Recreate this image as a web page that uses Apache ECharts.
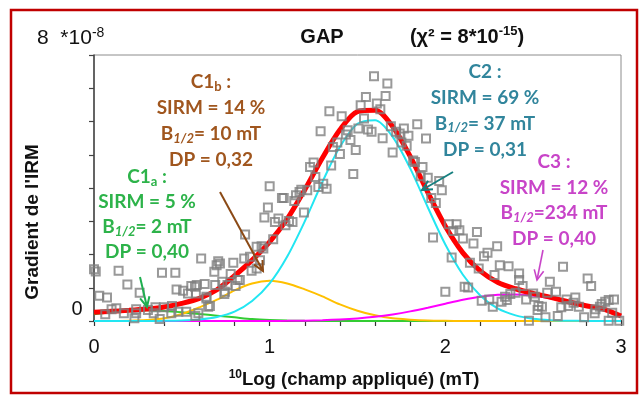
<!DOCTYPE html>
<html><head><meta charset="utf-8">
<script src="https://cdn.jsdelivr.net/npm/echarts@6/dist/echarts.min.js"></script>
<style>html,body{margin:0;padding:0;background:#fff}#c{width:642px;height:398px}</style>
</head><body><div id="c"></div>
<script>
// ---- data ----
const xSamples = [0,0.1,0.2,0.3,0.4,0.5,0.6,0.7,0.8,0.9,1.0,1.1,1.2,1.3,1.4,1.5,1.6,1.7,1.8,1.9,2.0,2.1,2.2,2.3,2.4,2.5,2.6,2.7,2.8,2.9,3.0];
const totalFit = [0.26,0.29,0.32,0.36,0.42,0.53,0.68,0.94,1.36,1.83,2.38,3.07,3.95,4.90,5.75,6.30,6.34,5.85,4.95,3.87,2.85,2.05,1.50,1.16,0.97,0.83,0.71,0.58,0.46,0.36,0.15];
const compC1a = [0.20,0.26,0.30,0.32,0.30,0.26,0.21,0.16,0.11,0.06,0.03,0.012,0.004,0.001,0,0,0,0,0,0,0,0,0,0,0,0,0,0,0,0,0];
const compC1b = [0,0.003,0.01,0.03,0.08,0.21,0.41,0.64,0.92,1.13,1.21,1.13,0.95,0.74,0.50,0.31,0.17,0.08,0.04,0.015,0.005,0,0,0,0,0,0,0,0,0,0];
const compC2 = [0,0,0,0.001,0.005,0.016,0.046,0.12,0.28,0.60,1.13,1.94,3.00,4.18,5.24,5.93,6.04,5.54,4.59,3.42,2.30,1.39,0.76,0.37,0.17,0.066,0.024,0.008,0.002,0,0];
const compC3 = [0,0,0,0,0,0,0,0,0,0.001,0.002,0.005,0.011,0.022,0.042,0.075,0.125,0.197,0.290,0.401,0.521,0.637,0.731,0.788,0.798,0.759,0.678,0.569,0.449,0.33,0.15];
const measuredX = [0.00,0.01,0.14,0.19,0.03,0.074,0.26,0.387,0.463,0.47,0.507,0.535,0.554,0.585,0.63,0.64,0.58,0.69,0.064,0.10,0.127,0.17,0.23,0.24,0.24,0.307,0.34,0.374,0.398,0.35,0.444,0.44,0.48,0.525,0.577,0.61,0.707,0.717,0.698,0.793,0.685,0.778,0.83,0.818,0.73,0.76,0.806,0.745,0.742,0.65,0.66,0.64,0.594,0.575,0.855,0.888,0.945,0.897,0.926,0.926,0.954,0.964,0.86,1.02,0.97,0.99,1.00,1.03,1.05,1.09,1.11,1.13,1.07,1.08,1.14,1.15,1.17,1.18,1.195,1.214,1.277,1.305,1.324,1.26,1.25,1.23,1.35,1.476,1.29,1.34,1.41,1.385,1.36,1.40,1.444,1.434,1.46,1.49,1.505,1.537,1.518,1.548,1.594,1.67,1.66,1.61,1.63,1.56,1.58,1.643,1.69,1.72,1.74,1.764,1.79,1.70,1.75,1.78,1.84,1.89,1.817,1.827,1.87,1.86,1.90,1.965,1.98,1.92,1.946,2.02,2.064,2.045,2.08,2.10,2.18,2.16,1.93,2.295,2.036,2.24,2.22,2.14,2.19,2.31,2.36,2.28,2.00,2.11,2.13,2.207,2.25,2.32,2.35,2.27,2.42,2.42,2.44,2.67,2.81,2.83,2.595,2.34,2.37,2.40,2.46,2.50,2.51,2.58,2.63,2.53,2.55,2.525,2.57,2.476,2.64,2.69,2.70,2.66,2.74,2.73,2.76,2.79,2.85,2.855,2.88,2.89,2.91,2.93,2.96,2.93,2.99,2.95];
const measuredY = [1.56,1.49,1.51,1.10,0.76,0.71,0.85,1.45,1.45,0.95,0.91,0.83,1.05,1.08,1.11,0.73,0.83,1.08,0.20,0.35,0.38,0.23,0.08,0.35,0.23,0.33,0.23,0.06,0.41,0.41,0.45,0.23,0.28,0.28,0.15,1.88,1.80,1.73,1.68,1.75,1.48,1.41,1.23,1.23,1.18,1.08,1.05,0.88,0.81,0.43,0.45,0.68,0.23,1.03,1.88,1.93,1.83,1.51,1.58,2.23,2.25,2.18,2.60,2.46,3.11,3.41,4.05,2.98,3.08,2.88,3.01,2.98,3.70,3.70,3.61,3.78,3.88,3.95,3.26,3.93,4.03,4.13,3.98,4.33,4.77,4.63,4.68,4.42,5.71,6.31,6.16,5.37,5.23,5.02,5.74,5.61,5.44,5.14,5.79,6.09,6.49,6.74,7.36,7.14,6.77,6.54,6.37,5.76,5.69,5.50,5.86,5.69,5.64,5.79,5.57,5.07,5.37,5.27,5.92,5.49,4.83,4.78,4.63,4.35,4.31,4.21,3.93,3.70,3.55,2.91,2.91,2.71,2.73,2.48,2.68,2.33,2.51,2.25,1.91,2.05,1.95,1.75,1.58,1.68,1.65,1.38,0.88,1.03,1.01,0.61,0.65,0.58,0.63,0.43,1.43,1.23,1.05,1.63,1.28,1.05,1.18,0.73,0.81,0.85,0.65,0.83,0.73,0.85,0.88,0.45,0.43,0.33,0.11,0.01,0.15,0.65,0.45,0.41,0.71,0.55,0.43,0.11,0.23,0.35,0.43,0.51,0.58,0.63,0.65,0.01,0.01,0.25];
const xTickLabels = ['0','1','2','3'];

// ---- chart ----
const chart = echarts.init(document.getElementById('c'));
const pairs = arr => xSamples.map((x, i) => [x, arr[i]]);
const ANN = 'Lato, "Open Sans", sans-serif';
const AR = '"Liberation Sans", Arial, sans-serif';

function block(cx, y0, step, lines, color) {
  return lines.map((t, i) => ({
    type: 'text', x: cx, y: y0 + i * step, z: 50,
    style: {
      text: t, fill: color, align: 'center', verticalAlign: 'middle',
      fontFamily: ANN, fontSize: 19, fontWeight: 'bold',
      rich: {
        n: { fontFamily: ANN, fontSize: 19, fontWeight: 'bold', fill: color, lineHeight: 22 },
        s: { fontFamily: ANN, fontSize: 13, fontWeight: 'bold', fill: color, lineHeight: 10, verticalAlign: 'bottom' },
        si: { fontFamily: ANN, fontSize: 13, fontWeight: 'bold', fontStyle: 'italic', fill: color, lineHeight: 10, verticalAlign: 'bottom' }
      }
    }
  }));
}
function arrow(x1, y1, x2, y2, color, w) {
  const a = Math.atan2(y2 - y1, x2 - x1), L = 11, sp = 0.45;
  const h1 = [x2 - L * Math.cos(a - sp), y2 - L * Math.sin(a - sp)];
  const h2 = [x2 - L * Math.cos(a + sp), y2 - L * Math.sin(a + sp)];
  return [
    { type: 'line', z: 50, shape: { x1, y1, x2, y2 }, style: { stroke: color, lineWidth: w } },
    { type: 'polyline', z: 50, shape: { points: [h1, [x2, y2], h2] }, style: { stroke: color, lineWidth: w, fill: null } }
  ];
}

const brown = '#A0561E', green = '#2DB34A', teal = '#31859C', mag = '#C844C8';
const graphics = [
  { type: 'rect', z: 60, shape: { x: 11, y: 10, width: 626, height: 383 }, style: { stroke: '#C00000', lineWidth: 2.5, fill: null } },
  { type: 'text', x: 37, y: 38, style: { text: '{n|8  *10}{p|-8}', align: 'left', verticalAlign: 'middle',
      rich: { n: { fontFamily: AR, fontSize: 21, fill: '#111', lineHeight: 24 }, p: { fontFamily: AR, fontSize: 14, fill: '#111', lineHeight: 14, verticalAlign: 'top' } } } },
  { type: 'text', x: 322, y: 37, style: { text: 'GAP', align: 'center', verticalAlign: 'middle', fontFamily: AR, fontSize: 20, fontWeight: 'bold', fill: '#111' } },
  { type: 'text', x: 467, y: 37, style: { text: '{n|(χ² = 8*10}{p|-15}{n|)}', align: 'center', verticalAlign: 'middle',
      rich: { n: { fontFamily: AR, fontSize: 20, fontWeight: 'bold', fill: '#111', lineHeight: 24 }, p: { fontFamily: AR, fontSize: 13, fontWeight: 'bold', fill: '#111', lineHeight: 13, verticalAlign: 'top' } } } },
  { type: 'text', x: 77, y: 309, style: { text: '0', align: 'center', verticalAlign: 'middle', fontFamily: AR, fontSize: 20, fill: '#111' } },
  { type: 'text', x: 33, y: 222, rotation: Math.PI / 2, style: { text: "Gradient de l'IRM", align: 'center', verticalAlign: 'middle', fontFamily: AR, fontSize: 19, fontWeight: 'bold', fill: '#111' } },
  { type: 'text', x: 354, y: 380, style: { text: '{p|10}{n|Log (champ appliqué) (mT)}', align: 'center', verticalAlign: 'middle',
      rich: { n: { fontFamily: AR, fontSize: 18.5, fontWeight: 'bold', fill: '#111', lineHeight: 22 }, p: { fontFamily: AR, fontSize: 12, fontWeight: 'bold', fill: '#111', lineHeight: 12, verticalAlign: 'top' } } } }
].concat(
  block(211, 82, 26, ['{n|C1}{s|b}{n| :}', '{n|SIRM = 14 %}', '{n|B}{si|1/2}{n|= 10 mT}', '{n|DP = 0,32}'], brown),
  block(147, 177, 25, ['{n|C1}{s|a}{n| :}', '{n|SIRM = 5 %}', '{n|B}{si|1/2}{n|= 2 mT}', '{n|DP = 0,40}'], green),
  block(485, 72, 25.8, ['{n|C2 :}', '{n|SIRM = 69 %}', '{n|B}{si|1/2}{n|= 37 mT}', '{n|DP = 0,31}'], teal),
  block(554, 162, 25.5, ['{n|C3 :}', '{n|SIRM = 12 %}', '{n|B}{si|1/2}{n|=234 mT}', '{n|DP = 0,40}'], mag),
  arrow(220, 192, 263, 271, '#8B4A16', 2),
  arrow(140, 277, 147, 307, '#1FAF50', 2),
  arrow(453, 172, 422, 190, '#178080', 2),
  arrow(543, 250, 537, 280, mag, 1.6)
);

const lineS = (name, arr, color, w, z) => ({
  name, type: 'line', data: pairs(arr), smooth: 0.3, symbol: 'none', z,
  lineStyle: { color, width: w }, silent: true, animation: false
});

chart.setOption({
  animation: false,
  grid: { left: 94, right: 21, top: 55, bottom: 77, show: true, borderColor: '#8c8c8c', borderWidth: 1 },
  xAxis: {
    type: 'value', min: 0, max: 3, interval: 0.2,
    axisLine: { show: true, lineStyle: { color: '#222', width: 2 } },
    axisTick: { show: true, length: 5, lineStyle: { color: '#333', width: 1.2 } },
    axisLabel: {
      fontFamily: AR, fontSize: 20, color: '#111', margin: 16, showMinLabel: true, showMaxLabel: true,
      formatter: v => { const r = Math.round(v); return Math.abs(v - r) < 1e-6 ? xTickLabels[r] : ''; }
    },
    splitLine: { show: false }
  },
  yAxis: {
    type: 'value', min: 0, max: 8, interval: 1,
    axisLine: { show: true, lineStyle: { color: '#444', width: 1.5 } },
    axisTick: { show: true, length: 5, lineStyle: { color: '#444', width: 1.2 } },
    axisLabel: { show: false },
    splitLine: { show: false }
  },
  series: [
    lineS('C1a', compC1a, '#33CC33', 2, 2),
    lineS('C1b', compC1b, '#FFC000', 2, 2),
    lineS('C3', compC3, '#FF00FF', 2, 2),
    lineS('C2', compC2, '#22E6F2', 2, 2),
    lineS('total', totalFit, '#FF0000', 5, 3),
    {
      name: 'mesures', type: 'scatter', z: 4, symbol: 'rect', symbolSize: 8,
      data: measuredX.map((x, i) => [x, measuredY[i]]),
      itemStyle: { color: 'rgba(255,255,255,0)', borderColor: '#7f7f7f', borderWidth: 2 },
      silent: true, animation: false
    }
  ],
  graphic: graphics
});
</script>
</body></html>
